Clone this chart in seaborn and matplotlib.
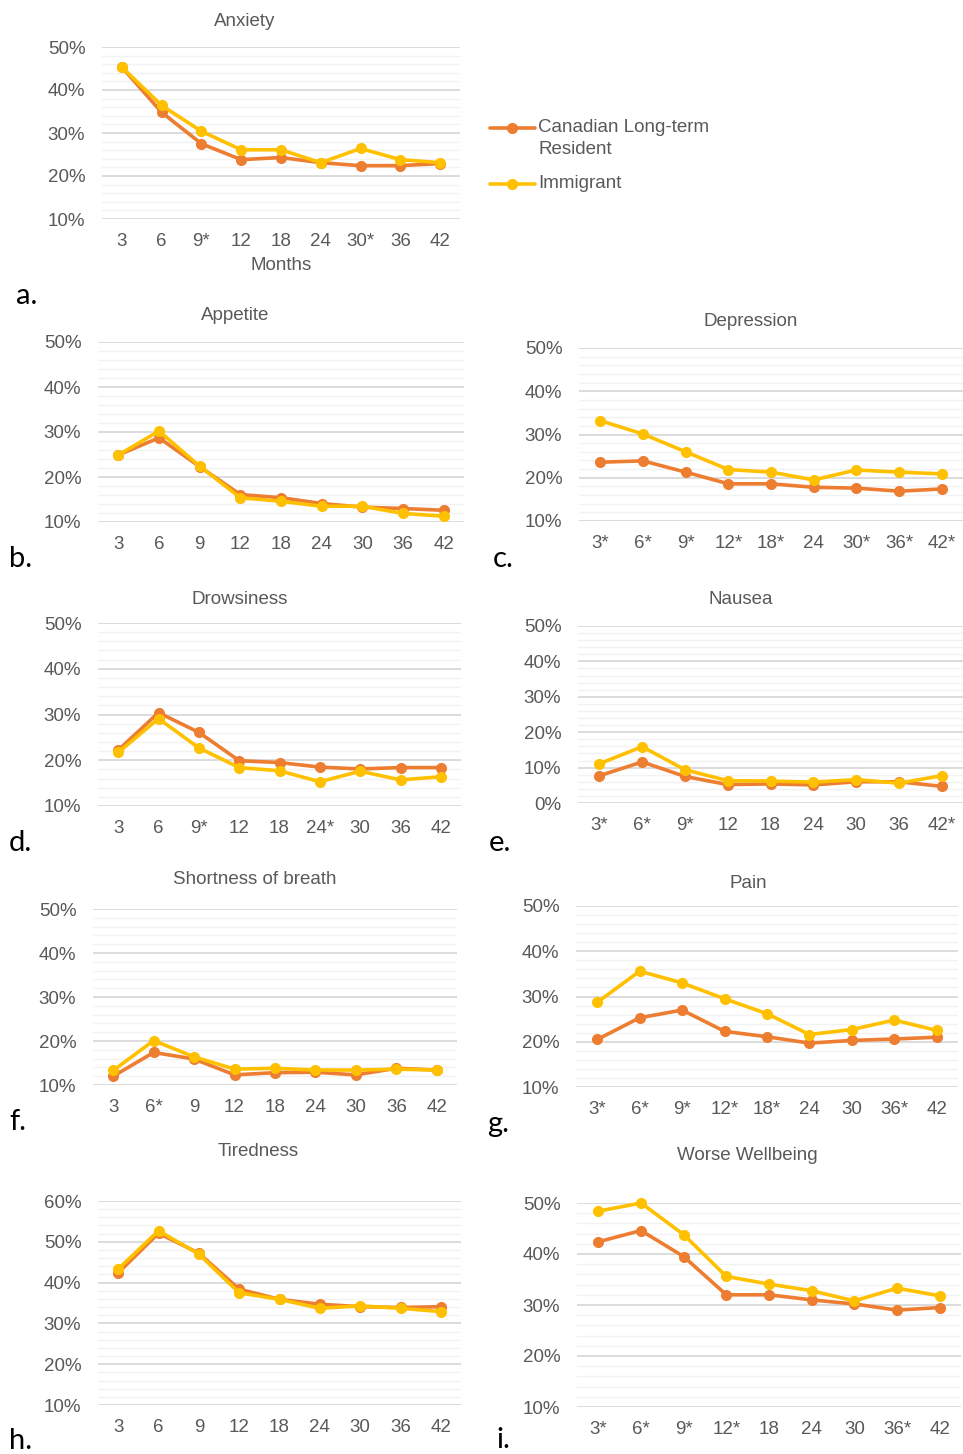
import pandas as pd
import matplotlib
matplotlib.use("Agg")
import matplotlib.pyplot as plt
from matplotlib.lines import Line2D
from matplotlib.ticker import MultipleLocator, PercentFormatter
import seaborn as sns

# Month labels per panel (asterisk = significant difference)
months_a = ["3", "6", "9*", "12", "18", "24", "30*", "36", "42"]
months_b = ["3", "6", "9", "12", "18", "24", "30", "36", "42"]
months_c = ["3*", "6*", "9*", "12*", "18*", "24", "30*", "36*", "42*"]
months_d = ["3", "6", "9*", "12", "18", "24*", "30", "36", "42"]
months_e = ["3*", "6*", "9*", "12", "18", "24", "30", "36", "42*"]
months_f = ["3", "6*", "9", "12", "18", "24", "30", "36", "42"]
months_g = ["3*", "6*", "9*", "12*", "18*", "24", "30", "36*", "42"]
months_h = ["3", "6", "9", "12", "18", "24", "30", "36", "42"]
months_i = ["3*", "6*", "9*", "12*", "18", "24", "30", "36*", "42"]

# Percentages, Canadian long-term residents (clr) vs immigrants (imm)
anxiety_clr = [45.3, 34.8, 27.5, 23.8, 24.3, 23.1, 22.4, 22.4, 22.9]
anxiety_imm = [45.3, 36.4, 30.4, 26.1, 26.1, 23.1, 26.4, 23.8, 23.1]
appetite_clr = [24.9, 28.7, 22.3, 16.1, 15.4, 14.1, 13.3, 13.0, 12.6]
appetite_imm = [24.9, 30.2, 22.4, 15.4, 14.6, 13.5, 13.5, 11.9, 11.3]
depression_clr = [23.6, 23.9, 21.3, 18.6, 18.6, 17.8, 17.6, 16.9, 17.4]
depression_imm = [33.2, 30.1, 26.0, 21.9, 21.3, 19.5, 21.8, 21.3, 20.9]
drowsiness_clr = [22.2, 30.4, 26.1, 19.9, 19.5, 18.5, 18.1, 18.4, 18.4]
drowsiness_imm = [21.7, 29.1, 22.7, 18.4, 17.7, 15.3, 17.6, 15.7, 16.4]
nausea_clr = [7.7, 11.6, 7.5, 5.2, 5.4, 5.1, 6.0, 6.0, 4.7]
nausea_imm = [11.1, 15.9, 9.4, 6.3, 6.2, 5.9, 6.6, 5.6, 7.7]
breath_clr = [12.0, 17.4, 15.9, 12.3, 12.8, 12.9, 12.3, 13.8, 13.4]
breath_imm = [13.3, 20.1, 16.4, 13.6, 13.8, 13.4, 13.4, 13.6, 13.4]
pain_clr = [20.5, 25.3, 27.0, 22.3, 21.1, 19.7, 20.3, 20.6, 21.0]
pain_imm = [28.7, 35.6, 33.0, 29.5, 26.2, 21.6, 22.7, 24.8, 22.5]
tiredness_clr = [42.4, 52.1, 47.2, 38.4, 35.9, 34.7, 34.1, 33.9, 34.1]
tiredness_imm = [43.3, 52.7, 47.0, 37.5, 35.9, 33.7, 34.3, 33.7, 32.9]
wellbeing_clr = [42.4, 44.6, 39.5, 32.0, 32.0, 31.0, 30.2, 29.0, 29.5]
wellbeing_imm = [48.4, 50.0, 43.8, 35.6, 34.1, 32.8, 30.8, 33.3, 31.8]

groups = ["Canadian Long-term Resident", "Immigrant"]
palette = {"Canadian Long-term Resident": "#ED7D31", "Immigrant": "#FFC000"}

W, H = 963, 1454
sns.set_style("white")
plt.rcParams["font.family"] = ["Liberation Sans", "DejaVu Sans"]
fig = plt.figure(figsize=(W / 100, H / 100), dpi=100)
GRAY = "#595959"
FS = 13.5
LW = 2.6
MS = 8


def px_axes(l, r, t, b):
    return fig.add_axes([l / W, 1 - b / H, (r - l) / W, (b - t) / H])


def panel(box, title, title_xy, letter, letter_xy, months, clr, imm, ylim):
    ax = px_axes(*box)
    df = pd.DataFrame({
        "month": months * 2,
        "value": clr + imm,
        "group": [groups[0]] * len(months) + [groups[1]] * len(months),
    })
    sns.lineplot(data=df, x="month", y="value", hue="group", palette=palette,
                 hue_order=groups, marker="o", markersize=MS, markeredgewidth=0,
                 linewidth=LW, sort=False, legend=False, clip_on=False, ax=ax)
    ax.set_xlim(-0.5, len(months) - 0.5)
    ax.set_ylim(*ylim)
    ax.yaxis.set_major_locator(MultipleLocator(10))
    ax.yaxis.set_minor_locator(MultipleLocator(2))
    ax.yaxis.set_major_formatter(PercentFormatter(decimals=0))
    ax.grid(which="major", axis="y", color="#D9D9D9", linewidth=1.3)
    ax.grid(which="minor", axis="y", color="#F2F2F2", linewidth=1.0)
    ax.set_axisbelow(True)
    for s in ax.spines.values():
        s.set_visible(False)
    ax.tick_params(axis="both", which="both", length=0, labelsize=FS,
                   labelcolor=GRAY)
    ax.tick_params(axis="y", pad=12)
    ax.tick_params(axis="x", pad=10)
    ax.set_xlabel("")
    ax.set_ylabel("")
    fig.text(title_xy[0] / W, 1 - title_xy[1] / H, title, ha="center",
             va="center", fontsize=FS, color=GRAY)
    fig.text(letter_xy[0] / W, 1 - letter_xy[1] / H, letter, ha="left",
             va="center", fontsize=21, color="black", family=["Lato", "DejaVu Sans"])
    return ax


ax_a = panel((102, 460, 47, 219), "Anxiety", (245, 21), "a.", (16, 296),
             months_a, anxiety_clr, anxiety_imm, (10, 50))
fig.text(281 / W, 1 - 265 / H, "Months", ha="center", va="center",
         fontsize=FS, color=GRAY)
panel((98, 464, 342, 522), "Appetite", (235, 315), "b.", (9, 559),
      months_b, appetite_clr, appetite_imm, (10, 50))
panel((579, 963, 348, 521), "Depression", (751, 322), "c.", (493, 559),
      months_c, depression_clr, depression_imm, (10, 50))
panel((98, 461, 623, 806), "Drowsiness", (240, 599), "d.", (9, 843),
      months_d, drowsiness_clr, drowsiness_imm, (10, 50))
panel((578, 963, 626, 803), "Nausea", (741, 599), "e.", (489, 843),
      months_e, nausea_clr, nausea_imm, (0, 50))
panel((93, 457, 909, 1085), "Shortness of breath", (255, 880), "f.", (9, 1122),
      months_f, breath_clr, breath_imm, (10, 50))
panel((576, 958, 906, 1087), "Pain", (748, 883), "g.", (487, 1124),
      months_g, pain_clr, pain_imm, (10, 50))
panel((98, 461, 1201, 1405), "Tiredness", (258, 1152), "h.", (9, 1441),
      months_h, tiredness_clr, tiredness_imm, (10, 60))
panel((577, 961, 1203, 1407), "Worse Wellbeing", (747, 1155), "i.", (496, 1440),
      months_i, wellbeing_clr, wellbeing_imm, (10, 50))

# Legend, Excel style: handle aligned with first text line
legend_rows = [(groups[0], ["Canadian Long-term", "Resident"], 128),
               (groups[1], ["Immigrant"], 184)]
for g, lines, y in legend_rows:
    fig.add_artist(Line2D([490 / W, 512 / W, 535 / W], [1 - y / H] * 3,
                          color=palette[g], linewidth=LW, marker="o",
                          markersize=MS, markeredgewidth=0, markevery=[1]))
    for k, txt in enumerate(lines):
        fig.text(538 / W, 1 - (y + 22 * k) / H, txt, ha="left", va="center",
                 fontsize=FS, color=GRAY)

fig.savefig("out.png", dpi=100)
